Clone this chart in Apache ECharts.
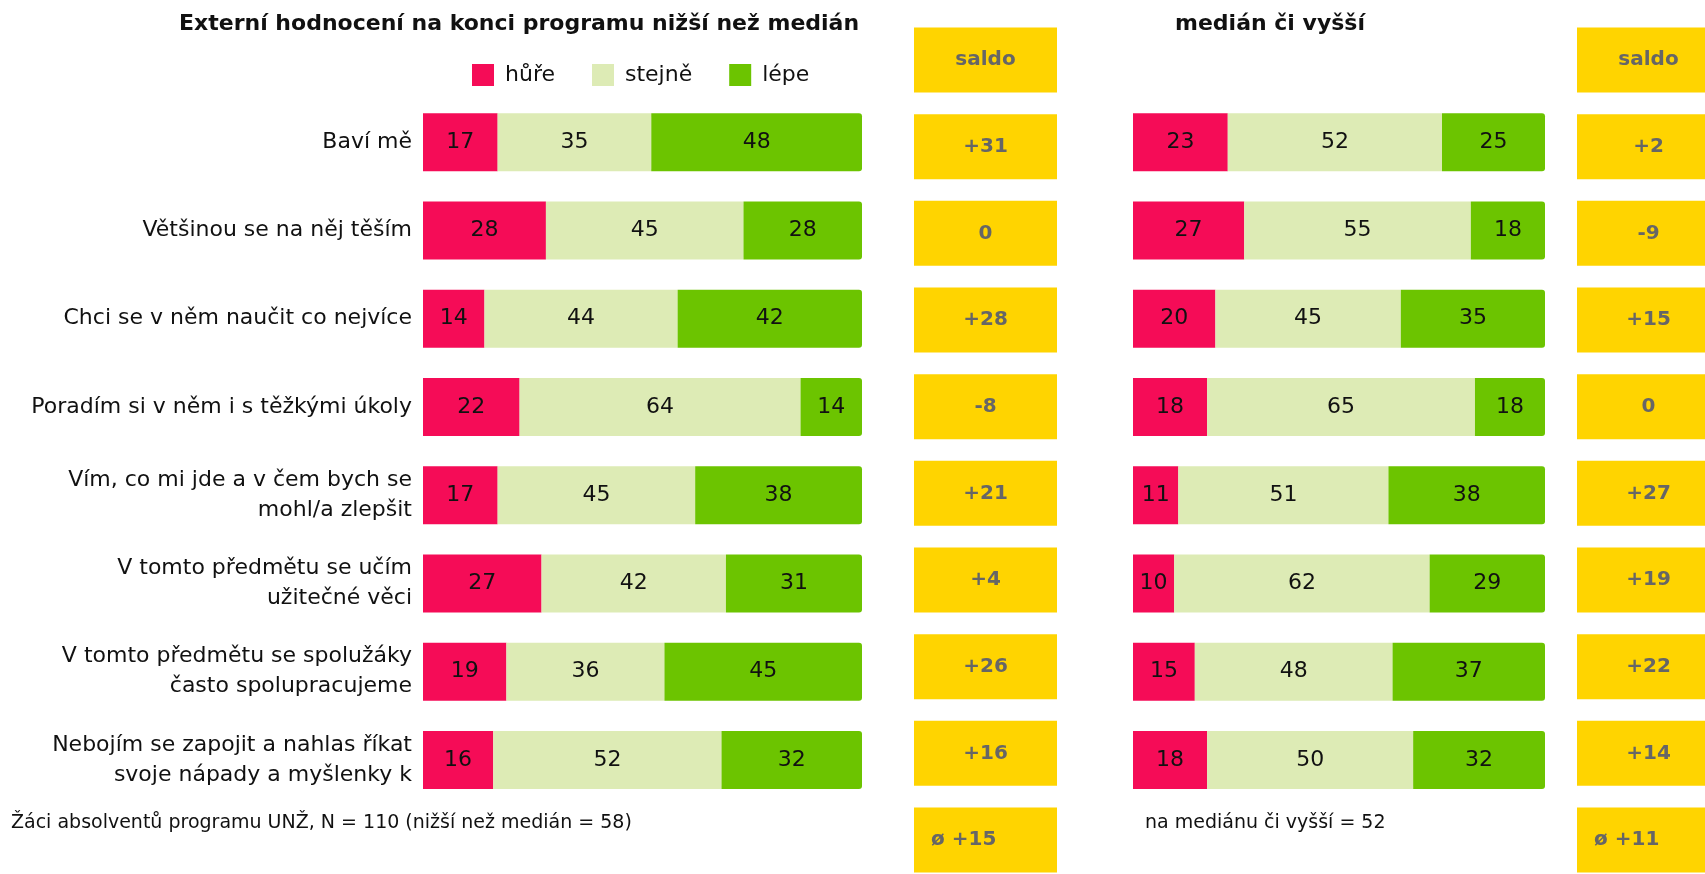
<!DOCTYPE html>
<html>
<head>
<meta charset="utf-8">
<script src="https://cdn.jsdelivr.net/npm/echarts@6/dist/echarts.min.js"></script>
<style>
  html, body { margin: 0; padding: 0; background: #fff; }
  #chart { width: 1705px; height: 874px; }
</style>
</head>
<body>
<div id="chart"></div>
<script>
// otázky (řádky)
const questions = [
  'Baví mě',
  'Většinou se na něj těším',
  'Chci se v něm naučit co nejvíce',
  'Poradím si v něm i s těžkými úkoly',
  'Vím, co mi jde a v čem bych se\nmohl/a zlepšit',
  'V tomto předmětu se učím\nužitečné věci',
  'V tomto předmětu se spolužáky\nčasto spolupracujeme',
  'Nebojím se zapojit a nahlas říkat\nsvoje nápady a myšlenky k'
]
const seriesNames = ['hůře', 'stejně', 'lépe']

// nižší než medián
const leftWorse = [17, 28, 14, 22, 17, 27, 19, 16]
const leftSame = [35, 45, 44, 64, 45, 42, 36, 52]
const leftBetter = [48, 28, 42, 14, 38, 31, 45, 32]
const saldoLeft = [31, 0, 28, -8, 21, 4, 26, 16]
const avgLeft = 15

// medián či vyšší
const rightWorse = [23, 27, 20, 18, 11, 10, 15, 18]
const rightSame = [52, 55, 45, 65, 51, 62, 48, 50]
const rightBetter = [25, 18, 35, 18, 38, 29, 37, 32]
const saldoRight = [2, -9, 15, 0, 27, 19, 22, 14]
const avgRight = 11

const colors = ['#F50C57', '#DDEBB5', '#6CC400']
const yellow = '#FFD400'
const font = 'DejaVu Sans'

function fmt(v) {
  return v > 0 ? '+' + v : String(v)
}

// žluté buňky se saldem: hlavička, 8 řádků, průměr
function saldoCells(vals, avg) {
  const texts = ['saldo'].concat(vals.map(fmt), ['ø ' + fmt(avg)])
  return texts.map((t, i) => ({
    value: 1,
    name: t,
    label: i === texts.length - 1 ? { position: 'insideLeft', distance: 17 } : {}
  }))
}

function barSeries(data, i, axis, stack) {
  return {
    name: seriesNames[i],
    type: 'bar',
    stack: stack,
    xAxisIndex: axis,
    yAxisIndex: axis,
    barWidth: 58,
    data: data,
    itemStyle: {
      color: colors[i],
      borderRadius: i === 2 ? [0, 3, 3, 0] : 0
    },
    label: {
      show: true,
      position: 'inside',
      color: '#111',
      fontFamily: font,
      fontSize: 22
    },
    emphasis: { disabled: true }
  }
}

function saldoSeries(vals, avg, axis) {
  return {
    type: 'bar',
    xAxisIndex: axis,
    yAxisIndex: axis,
    barWidth: 65,
    clip: false,
    data: saldoCells(vals, avg),
    itemStyle: { color: yellow },
    label: {
      show: true,
      position: 'inside',
      formatter: p => p.name,
      color: '#666',
      fontFamily: font,
      fontWeight: 'bold',
      fontSize: 20
    },
    emphasis: { disabled: true }
  }
}

const saldoRows = ['h'].concat(questions, ['avg'])

const chart = echarts.init(document.getElementById('chart'))
const option = {
  animation: false,
  title: [
    {
      text: 'Externí hodnocení na konci programu nižší než medián',
      left: 179, top: 13, padding: 0,
      textStyle: { fontFamily: font, fontSize: 22, fontWeight: 'bold', color: '#111' }
    },
    {
      text: 'medián či vyšší',
      left: 1175, top: 13, padding: 0,
      textStyle: { fontFamily: font, fontSize: 22, fontWeight: 'bold', color: '#111' }
    }
  ],
  legend: {
    data: seriesNames,
    left: 472, top: 64,
    padding: 0,
    itemWidth: 22, itemHeight: 22,
    itemGap: 37,
    icon: 'rect',
    textStyle: { fontFamily: font, fontSize: 22, color: '#111', padding: [0, 0, 0, 6] }
  },
  grid: [
    { left: 423, width: 439, top: 98, height: 706 },
    { left: 1133, width: 412, top: 98, height: 706 },
    { left: 914, width: 143, top: 60, height: 780 },
    { left: 1577, width: 128, top: 60, height: 780 }
  ],
  xAxis: [
    { type: 'value', gridIndex: 0, min: 0, max: 100, show: false },
    { type: 'value', gridIndex: 1, min: 0, max: 100, show: false },
    { type: 'value', gridIndex: 2, min: 0, max: 1, show: false },
    // pravý sloupec salda přesahuje okraj obrázku
    { type: 'value', gridIndex: 3, min: 0, max: 128 / 143, show: false }
  ],
  yAxis: [
    {
      type: 'category', gridIndex: 0, inverse: true, data: questions,
      axisLine: { show: false }, axisTick: { show: false },
      axisLabel: {
        margin: 11, color: '#111', fontFamily: font, fontSize: 22,
        lineHeight: 30, align: 'right'
      }
    },
    { type: 'category', gridIndex: 1, inverse: true, data: questions, show: false },
    { type: 'category', gridIndex: 2, inverse: true, boundaryGap: false, data: saldoRows, show: false },
    { type: 'category', gridIndex: 3, inverse: true, boundaryGap: false, data: saldoRows, show: false }
  ],
  graphic: [
    {
      type: 'text', left: 11, top: 814,
      style: { text: 'Žáci absolventů programu UNŽ, N = 110 (nižší než medián = 58)', font: '19px "DejaVu Sans"', fill: '#111' }
    },
    {
      type: 'text', left: 1145, top: 814,
      style: { text: 'na mediánu či vyšší = 52', font: '19px "DejaVu Sans"', fill: '#111' }
    }
  ],
  series: [
    barSeries(leftWorse, 0, 0, 'L'),
    barSeries(leftSame, 1, 0, 'L'),
    barSeries(leftBetter, 2, 0, 'L'),
    barSeries(rightWorse, 0, 1, 'R'),
    barSeries(rightSame, 1, 1, 'R'),
    barSeries(rightBetter, 2, 1, 'R'),
    saldoSeries(saldoLeft, avgLeft, 2),
    saldoSeries(saldoRight, avgRight, 3)
  ]
}
chart.setOption(option)
</script>
</body>
</html>
